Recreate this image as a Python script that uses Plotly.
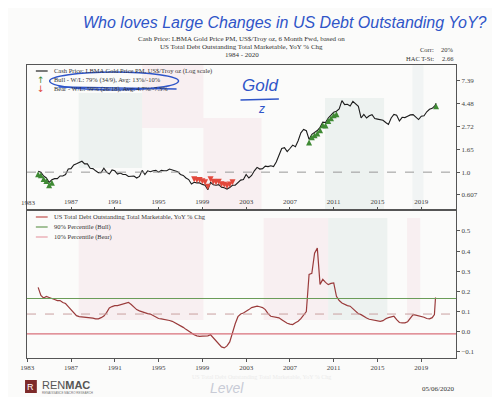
import numpy as np
import pandas as pd
import plotly.graph_objects as go

# ---------------- data ----------------
gold_years = [float(v) for v in np.round(np.arange(1984.0, 2020.26, 0.25), 2)] + [2020.35]
gold_rel = [
    1.02, 1.00, 0.92, 0.88,    # 1984
    0.80, 0.845, 0.867, 0.867, # 1985
    0.92, 0.92, 0.95, 1.07,    # 1986
    1.08, 1.17, 1.20, 1.24,    # 1987
    1.27, 1.20, 1.20, 1.09,    # 1988
    1.08, 1.03, 0.99, 0.99,    # 1989
    1.09, 1.00, 0.96, 1.05,    # 1990
    1.03, 0.96, 0.98, 0.95,    # 1991
    0.95, 0.91, 0.92, 0.92,    # 1992
    0.88, 0.91, 1.04, 0.95,    # 1993
    1.03, 1.01, 1.03, 1.04,    # 1994
    1.00, 1.04, 1.03, 1.03,    # 1995
    1.07, 1.05, 1.03, 1.01,    # 1996
    0.95, 0.93, 0.88, 0.85,    # 1997
    0.77, 0.80, 0.79, 0.79,    # 1998
    0.765, 0.75, 0.68, 0.80,   # 1999
    0.76, 0.75, 0.76, 0.72,    # 2000
    0.71, 0.69, 0.715, 0.75,   # 2001
    0.75, 0.80, 0.84, 0.85,    # 2002
    0.95, 0.88, 0.93, 1.03,    # 2003
    1.11, 1.07, 1.08, 1.14,    # 2004
    1.13, 1.15, 1.13, 1.25,    # 2005
    1.47, 1.68, 1.71, 1.57,    # 2006
    1.68, 1.81, 1.75, 1.99,    # 2007
    2.37, 2.55, 2.48, 2.05,    # 2008
    2.29, 2.40, 2.49, 2.67,    # 2009
    2.99, 2.97, 3.28, 3.49,    # 2010
    3.73, 3.81, 4.00, 4.80,    # 2011
    4.40, 4.43, 4.27, 4.72,    # 2012
    4.48, 4.24, 3.28, 3.55,    # 2013
    3.28, 3.44, 3.52, 3.24,    # 2014
    3.20, 3.16, 3.12, 2.97,    # 2015
    2.85, 3.28, 3.55, 3.49,    # 2016
    3.07, 3.33, 3.31, 3.41,    # 2017
    3.51, 3.53, 3.33, 3.17,    # 2018
    3.41, 3.45, 3.76, 3.97,    # 2019
    4.05, 4.29, 4.53,          # 2020
]

debt_years = [float(v) for v in np.round(np.arange(1984.0, 2020.01, 0.25), 2)] + [2020.2, 2020.3]
debt_yoy = [
    0.22, 0.18, 0.168, 0.175,     # 1984
    0.17, 0.163, 0.16, 0.155,     # 1985
    0.155, 0.145, 0.14, 0.125,    # 1986
    0.11, 0.095, 0.08, 0.075,     # 1987
    0.074, 0.072, 0.072, 0.07,    # 1988
    0.068, 0.064, 0.064, 0.07,    # 1989
    0.078, 0.095, 0.118, 0.125,   # 1990
    0.13, 0.13, 0.135, 0.14,      # 1991
    0.142, 0.146, 0.135, 0.122,   # 1992
    0.11, 0.104, 0.098, 0.094,    # 1993
    0.09, 0.088, 0.08, 0.072,     # 1994
    0.066, 0.064, 0.062, 0.058,   # 1995
    0.056, 0.052, 0.045, 0.038,   # 1996
    0.031, 0.022, 0.012, 0.002,   # 1997
    -0.007, -0.015, -0.02, -0.023,  # 1998
    -0.022, -0.022, -0.02, -0.015,  # 1999
    -0.03, -0.048, -0.06, -0.075,   # 2000
    -0.08, -0.07, -0.05, 0.0,       # 2001
    0.04, 0.075, 0.088, 0.093,    # 2002
    0.10, 0.11, 0.12, 0.125,      # 2003
    0.127, 0.124, 0.12, 0.11,     # 2004
    0.09, 0.077, 0.074, 0.072,    # 2005
    0.069, 0.06, 0.05, 0.042,     # 2006
    0.038, 0.036, 0.045, 0.052,   # 2007
    0.065, 0.085, 0.10, 0.285,    # 2008
    0.29, 0.39, 0.415, 0.235,     # 2009
    0.26, 0.245, 0.234, 0.24,     # 2010
    0.242, 0.176, 0.155, 0.143,   # 2011
    0.135, 0.13, 0.127, 0.115,    # 2012
    0.10, 0.09, 0.085, 0.075,     # 2013
    0.068, 0.062, 0.06, 0.056,    # 2014
    0.054, 0.052, 0.055, 0.065,   # 2015
    0.07, 0.072, 0.077, 0.06,     # 2016
    0.046, 0.044, 0.044, 0.05,    # 2017
    0.07, 0.085, 0.083, 0.08,     # 2018
    0.077, 0.072, 0.066, 0.064,   # 2019
    0.07, 0.085, 0.17,            # 2020
]

bull_periods = [(1984.0, 1985.3), (2008.7, 2011.3), (2020.3, 2020.4)]
bear_periods = [(1998.2, 2001.9)]
bull_threshold = 0.165   # 90% percentile
bear_threshold = -0.01   # 10% percentile
median_level = 0.088
gold_ref_level = 1.0

top_tick_vals = [0.607, 1.0, 1.65, 2.72, 4.48, 7.39]
top_tick_text = ["0.607", "1.0", "1.65", "2.72", "4.48", "7.39"]
bot_tick_vals = [-0.1, 0.0, 0.1, 0.2, 0.3, 0.4, 0.5]
bot_tick_text = ["\u22120.1", "0.0", "0.1", "0.2", "0.3", "0.4", "0.5"]

# faint shaded bands (decimal years)
top_green_bands = [(1987.7, 1993.5), (2010.2, 2015.6)]
top_pink_bands = [(1993.5, 1999.1), (1999.1, 2004.4)]
top_grey_bands = [(2018.2, 2019.2)]
bot_pink_bands = [(1987.7, 1999.1), (2004.6, 2010.5), (2017.7, 2018.9)]
bot_green_bands = [(2010.5, 2015.9)]


# ---------------- helpers ----------------
def to_date(t):
    y = int(np.floor(t))
    return pd.Timestamp(year=y, month=1, day=1) + pd.Timedelta(days=(t - y) * 365.25)


def in_periods(t, periods):
    return any(a <= t <= b for a, b in periods)


W, H = 500, 397
ML, MR, MT, MB = 12, 52, 57, 47
PW, PH = W - ML - MR, H - MT - MB


def px(x):
    return (x - ML) / PW


def py(y):
    return (H - MB - y) / PH


SPLIT = py(202)

gold_dates = [to_date(t) for t in gold_years]
debt_dates = [to_date(t) for t in debt_years]
bull_x = [d for t, d in zip(gold_years, gold_dates) if in_periods(t, bull_periods)]
bull_y = [v for t, v in zip(gold_years, gold_rel) if in_periods(t, bull_periods)]
bear_x = [d for t, d in zip(gold_years, gold_dates) if in_periods(t, bear_periods)]
bear_y = [v for t, v in zip(gold_years, gold_rel) if in_periods(t, bear_periods)]

SERIF = "Liberation Serif"
HAND = "Liberation Sans"
INK = "#2f55c8"

fig = go.Figure()

fig.add_trace(go.Scatter(x=gold_dates, y=gold_rel, mode="lines",
                         line=dict(color="#1c1c1c", width=1.1), xaxis="x", yaxis="y",
                         showlegend=False))
fig.add_trace(go.Scatter(x=bull_x, y=bull_y, mode="markers",
                         marker=dict(symbol="arrow-up", size=6, color="#3f8a34"),
                         xaxis="x", yaxis="y", showlegend=False))
fig.add_trace(go.Scatter(x=bear_x, y=bear_y, mode="markers",
                         marker=dict(symbol="arrow-down", size=6, color="#e2483c"),
                         xaxis="x", yaxis="y", showlegend=False))
fig.add_trace(go.Scatter(x=debt_dates, y=debt_yoy, mode="lines",
                         line=dict(color="#9a3b3b", width=1.2), xaxis="x2", yaxis="y2",
                         showlegend=False))

x_range = [to_date(1982.98), to_date(2022.17)]

shapes = []
# reference lines
shapes.append(dict(type="line", xref="x domain", yref="y", x0=0, x1=1,
                   y0=gold_ref_level, y1=gold_ref_level,
                   line=dict(color="#999999", width=1, dash="dash")))
shapes.append(dict(type="line", xref="x2 domain", yref="y2", x0=0, x1=1,
                   y0=bull_threshold, y1=bull_threshold,
                   line=dict(color="#6a9c58", width=1.2)))
shapes.append(dict(type="line", xref="x2 domain", yref="y2", x0=0, x1=1,
                   y0=median_level, y1=median_level,
                   line=dict(color="#c9a0a0", width=1, dash="dash")))
shapes.append(dict(type="line", xref="x2 domain", yref="y2", x0=0, x1=1,
                   y0=bear_threshold, y1=bear_threshold,
                   line=dict(color="#d9707a", width=1.2)))


def band(xref, a, b, y0px, y1px, color):
    return dict(type="rect", xref=xref, yref="paper", x0=to_date(a), x1=to_date(b),
                y0=py(y1px), y1=py(y0px), fillcolor=color, line=dict(width=0),
                layer="below")


GREEN = "rgba(185,212,202,0.20)"
PINK = "rgba(240,190,200,0.18)"
GREY = "rgba(205,218,222,0.22)"
shapes.append(band("x", *top_green_bands[0], 85, 160, GREEN))
shapes.append(band("x", *top_green_bands[1], 90, 202, GREEN))
shapes.append(band("x", *top_pink_bands[0], 57, 120, PINK))
shapes.append(band("x", *top_pink_bands[1], 110, 202, PINK))
shapes.append(band("x", *top_grey_bands[0], 57, 202, GREY))
for a, b in bot_pink_bands:
    shapes.append(band("x2", a, b, 210, 312, PINK))
for a, b in bot_green_bands:
    shapes.append(band("x2", a, b, 210, 312, GREEN))

# legend glyph lines
shapes.append(dict(type="line", xref="paper", yref="paper", x0=px(21), x1=px(33),
                   y0=py(63), y1=py(63), line=dict(color="#222", width=1.2)))
for yy, col in [(209, "#c0504d"), (219, "#6a9c58"), (229, "#e8a0a8")]:
    shapes.append(dict(type="line", xref="paper", yref="paper", x0=px(21), x1=px(33),
                       y0=py(yy), y1=py(yy), line=dict(color=col, width=1.2)))

# handwriting: ellipse and strike-through, underline
shapes.append(dict(type="circle", xref="paper", yref="paper", x0=px(35), x1=px(166),
                   y0=py(82), y1=py(64), line=dict(color=INK, width=1.5)))
shapes.append(dict(type="line", xref="paper", yref="paper", x0=px(44), x1=px(164),
                   y0=py(79), y1=py(81), line=dict(color=INK, width=1.3)))
shapes.append(dict(type="line", xref="paper", yref="paper", x0=px(229), x1=px(268),
                   y0=py(92), y1=py(91), line=dict(color=INK, width=1.5)))
# logo square
shapes.append(dict(type="rect", xref="paper", yref="paper", x0=px(10), x1=px(22),
                   y0=py(385), y1=py(372), fillcolor="#7d2a2a", line=dict(width=0)))

ann = []


def txt(x, y, s, size=7, color="#333", anchor="left", family=SERIF, **kw):
    ann.append(dict(x=px(x), y=py(y), xref="paper", yref="paper", text=s, showarrow=False,
                    xanchor=anchor, yanchor="middle",
                    font=dict(size=size, color=color, family=family, **kw)))


# handwritten title
txt(274, 14, "Who loves Large Changes in US Debt Outstanding YoY?", size=16, color=INK,
    anchor="center", family=HAND, style="italic")
# printed title
txt(230, 31, "Cash Price: LBMA Gold Price PM, US$/Troy oz, 6 Month Fwd, based on", 7, anchor="center")
txt(230, 39, "US Total Debt Outstanding Total Marketable, YoY % Chg", 7, anchor="center")
txt(230, 47, "1984 - 2020", 7, anchor="center")
txt(428, 42, "Corr:", 6.5, anchor="right")
txt(448, 42, "20%", 6.5, anchor="right")
txt(428, 50, "HAC T-St:", 6.5, anchor="right")
txt(448, 50, "2.66", 6.5, anchor="right")
# top legend
txt(37, 63, "Cash Price: LBMA Gold Price PM, US$/Troy oz (Log scale)", 6.5)
txt(26, 72, "\u2191", 9, color="#3f8a34", anchor="center", family="DejaVu Sans")
txt(37, 72, "Bull - W/L: 79% (34/9), Avg: 13%/-10%", 6.5)
txt(26, 81, "\u2193", 9, color="#e2483c", anchor="center", family="DejaVu Sans")
txt(37, 81, "Bear - W/L: 59% (26/18), Avg: 4.7%/-7.3%", 6.5)
# first year label of the top panel (sits on the left border)
txt(14, 195, "1983", 7, color="#444", anchor="center")
# handwritten Gold
txt(249, 78, "Gold", 17, color=INK, anchor="center", family=HAND, style="italic")
txt(250, 101, "z", 12, color=INK, anchor="center", family=HAND, style="italic")
# bottom legend
txt(37, 209, "US Total Debt Outstanding Total Marketable, YoY % Chg", 6.5)
txt(37, 219, "90% Percentile (Bull)", 6.5)
txt(37, 229, "10% Percentile (Bear)", 6.5)
# footer
txt(16, 378.5, "R", 9, color="white", anchor="center", family="Liberation Sans")
txt(25, 377, "REN<b>MAC</b>", 11, color="#555", family="Liberation Sans")
txt(25, 385, "RENAISSANCE MACRO RESEARCH", 3, color="#777", family="Liberation Sans")
txt(215, 380, "Level", 14, color="#c8cbd6", anchor="center", family=HAND, style="italic")
txt(250, 369, "US Total Debt Outstanding Total Marketable, YoY % Chg", 6, color="#ebebeb", anchor="center")
txt(448, 381, "05/06/2020", 7, anchor="right")

axis_font = dict(family=SERIF, size=7, color="#444")
common_x = dict(type="date", range=x_range, dtick="M48", tick0="1983-01-01", tickformat="%Y",
                showgrid=False, zeroline=False, showline=True, mirror=True,
                linecolor="#555", linewidth=1, tickcolor="#555", tickfont=axis_font)

fig.update_layout(
    width=W, height=H,
    margin=dict(l=ML, r=MR, t=MT, b=MB),
    paper_bgcolor="#fbfbfa", plot_bgcolor="#fbfbfa",
    showlegend=False,
    xaxis=dict(domain=[0, 1], anchor="y", ticks="inside", ticklen=3,
               ticklabelposition="inside", **common_x),
    yaxis=dict(domain=[SPLIT, 1], anchor="x", type="log",
               range=[np.log10(np.exp(-0.83)), np.log10(np.exp(2.35))],
               side="right", tickvals=top_tick_vals, ticktext=top_tick_text,
               ticks="outside", ticklen=3, showgrid=False, zeroline=False, showline=True,
               mirror=True, linecolor="#555", linewidth=1, tickcolor="#555", tickfont=axis_font),
    xaxis2=dict(domain=[0, 1], anchor="y2", ticks="outside", ticklen=3, **common_x),
    yaxis2=dict(domain=[0, SPLIT], anchor="x2", range=[-0.13, 0.604], side="right",
                tickvals=bot_tick_vals, ticktext=bot_tick_text,
                ticks="outside", ticklen=3, showgrid=False, zeroline=False, showline=True,
                mirror=True, linecolor="#555", linewidth=1, tickcolor="#555", tickfont=axis_font),
    shapes=shapes,
    annotations=ann,
)

fig.write_html("out.html")
